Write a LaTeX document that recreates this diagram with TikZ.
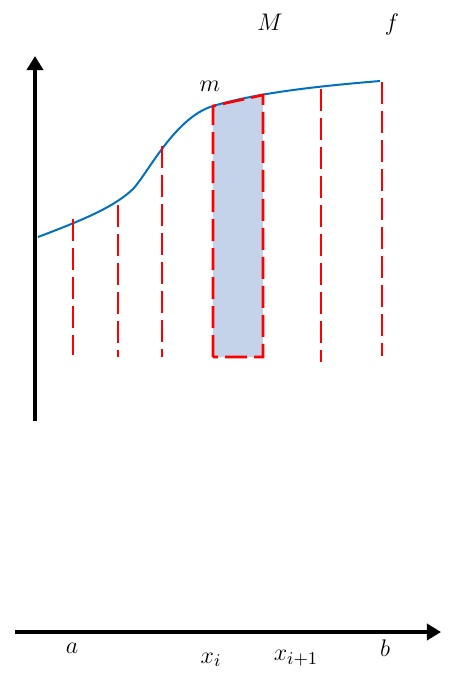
\documentclass[tikz,border=0pt]{standalone}
\usetikzlibrary{arrows.meta}

\begin{document}
\begin{tikzpicture}[x=.5pt,y=-.5pt,line cap=butt,line join=miter,
  font=\fontsize{12.5}{15}\selectfont,
  axis/.style={line width=2pt,-{Triangle[length=7pt,width=8pt]}},
  graph/.style={color={rgb,255:red,0;green,112;blue,192},line width=1pt},
  cut/.style={red,line width=1.3pt,dash pattern=on 11pt off 3.5pt},
  lab/.style={inner sep=1pt}]
  \path[use as bounding box] (0,0) rectangle (453,677);
  % axes
  \coordinate (Y0) at (35,421);
  \coordinate (Y1) at (35,56);
  \coordinate (X0) at (15,632);
  \coordinate (X1) at (441,632);
  \draw[axis] (Y0)--(Y1);
  \draw[axis,line width=1.8pt] (X0)--(X1);
  % strip between x_i and x_{i+1}
  \coordinate (Pi) at (213,106);
  \coordinate (Pj) at (263,95);
  \coordinate (Bi) at (213,357);
  \coordinate (Bj) at (263,357);
  \fill[color={rgb,255:red,196;green,210;blue,234}] (Bi)--(Pi)--(Pj)--(Bj)--cycle;
  % the function
  \coordinate (F0) at (38,237);
  \coordinate (F1) at (133,189);
  \coordinate (F2) at (380,81);
  \draw[graph] (F0) .. controls (80,221) and (113,208) .. (F1)
    .. controls (148,173) and (175,117.4) .. (Pi)
    .. controls (258,92.5) and (320,86) .. (F2);
  % partition lines
  \draw[cut] (73,219)--(73,355);
  \draw[cut] (118,205)--(118,357);
  \draw[cut] (162,146)--(162,357);
  \draw[cut] (Bi)--(Pi)--(Pj)--(Bj)--cycle;
  \draw[cut] (321,89)--(321,362);
  \draw[cut] (382,82)--(382,356);
  \node[lab] (M) at (270,22) {$M$};
  \node[lab] (f) at (392,24) {$f$};
  \node[lab] (m) at (210,86) {$m$};
  \node[lab] (a) at (72,648) {$a$};
  \node[lab] (xi) at (211,660) {$x_i$};
  \node[lab] (xj) at (296,658) {$x_{i+1}$};
  \node[lab] (b) at (385,648) {$b$};
\end{tikzpicture}
\end{document}
